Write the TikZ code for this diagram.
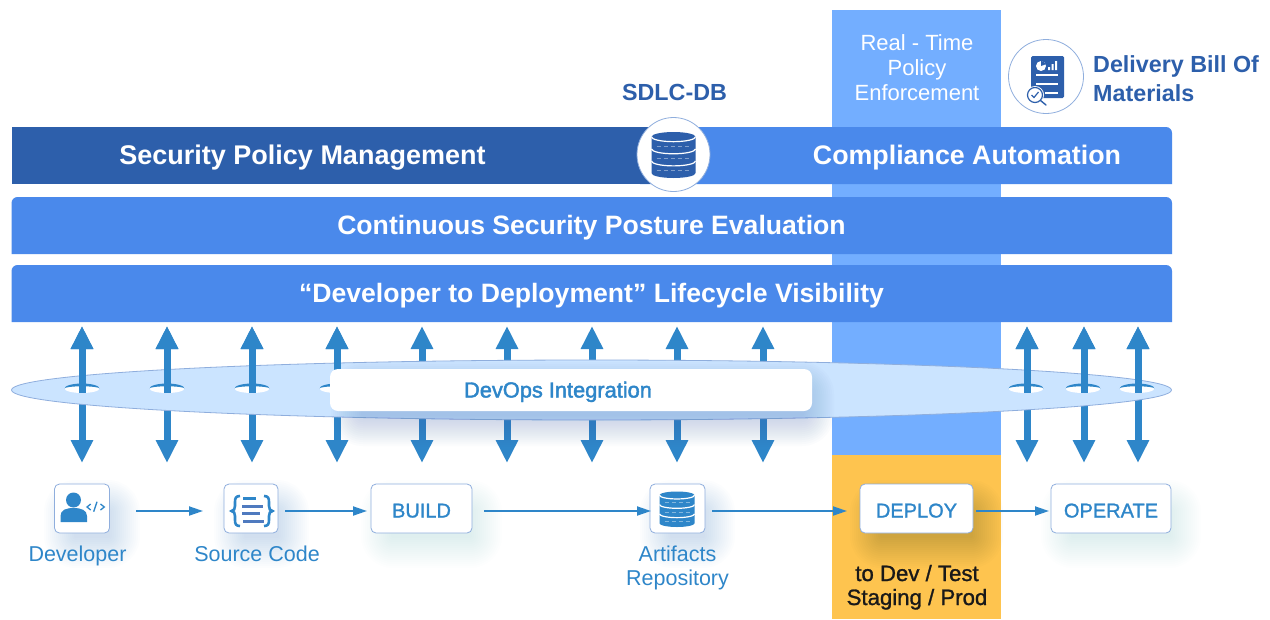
\documentclass[tikz,border=0pt]{standalone}
\usepackage{fontspec}
\setmainfont{Liberation Sans}
\newfontfamily\medf[FakeBold=1.2]{Liberation Sans}
\newfontfamily\semif[FakeBold=2]{Liberation Sans}
\usetikzlibrary{arrows.meta,shapes.geometric}
\definecolor{deepb}{HTML}{2D5FAB}
\definecolor{midb}{HTML}{4A89EB}
\definecolor{colb}{HTML}{73AEFF}
\definecolor{gold}{HTML}{FEC44F}
\definecolor{flowb}{HTML}{2E86C9}
\definecolor{edgeb}{HTML}{8FAEDD}
\definecolor{ovalb}{HTML}{CBE4FF}
\definecolor{lineb}{HTML}{4F7ABF}
\newcommand{\softshadow}[6]{% x1 y1 x2 y2 colour opacity
  \foreach \s in {24,22,...,-6}{
    \pgfmathsetmacro{\rr}{8+\s}
    \fill[#5,opacity=#6,rounded corners=\rr pt] ({#1-\s+10},{#2-\s+14}) rectangle ({#3+\s+10},{#4+\s+14});
  }}
\newcommand{\dbicon}[5]{% cx top w h colour
  \pgfmathsetmacro{\hw}{#3/2}\pgfmathsetmacro{\ry}{#4*0.105}\pgfmathsetmacro{\sec}{(#4-2*\ry)/3}
  \pgfmathsetmacro{\yA}{#2+\ry}\pgfmathsetmacro{\yB}{\yA+\sec}\pgfmathsetmacro{\yC}{\yB+\sec}\pgfmathsetmacro{\yD}{\yC+\sec}
  \fill[#5] ({#1-\hw},\yA) arc[x radius=\hw,y radius=\ry,start angle=180,end angle=360]
     -- ({#1+\hw},\yD) arc[x radius=\hw,y radius=\ry,start angle=0,end angle=180] -- cycle;
  \draw[white,line width=1.2pt] ({#1-\hw},\yA) arc[x radius=\hw,y radius=\ry,start angle=180,end angle=0];
  \draw[white,line width=1.2pt] ({#1-\hw},\yB) arc[x radius=\hw,y radius=\ry,start angle=180,end angle=0];
  \draw[white,line width=1.2pt] ({#1-\hw},\yC) arc[x radius=\hw,y radius=\ry,start angle=180,end angle=0];
  \foreach \yy in {\yA,\yB,\yC}{
    \draw[white,opacity=.4,line width=.6pt,dash pattern=on 4pt off 3pt] ({#1-\hw+5},{\yy+\ry+\sec*.4}) -- ({#1+\hw-5},{\yy+\ry+\sec*.4});
  }}
\tikzset{
  flow/.style={draw=flowb,line width=1.9pt,-{Triangle[width=9pt,length=14pt]}},
  dbl/.style={draw=flowb,line width=7pt,{Triangle[width=21pt,length=23pt]}-{Triangle[width=21pt,length=23pt]}},
  upper/.style={draw=flowb,line width=7pt,{Triangle[width=21pt,length=23pt]}-},
  stepbox/.style={draw=edgeb,line width=.8pt,fill=white,rounded corners=5pt,inner sep=0pt,outer sep=0pt,minimum height=49pt,text=flowb,text height=18pt,text depth=0pt,font=\medf\fontsize{20}{24}\selectfont},
  bartext/.style={text=white,anchor=base,inner sep=0pt},
  caption/.style={text=flowb,anchor=base,font=\fontsize{21.5}{24}\selectfont,inner sep=0pt},
  whitecap/.style={text=white,anchor=base,font=\fontsize{22}{25}\selectfont,inner sep=0pt},
  blackcap/.style={text=black!90,anchor=base,font=\medf\fontsize{22.2}{24}\selectfont,inner sep=0pt},
  deepcap/.style={text=deepb,anchor=base,font=\fontsize{23.3}{26}\selectfont\bfseries,inner sep=0pt},
  round/.style={draw=edgeb,line width=.8pt,fill=white,ellipse,inner sep=0pt,outer sep=0pt}
}
\begin{document}
\begin{tikzpicture}[x=1pt,y=-1pt]
\useasboundingbox (0,0) rectangle (1270,619);
\fill[white] (0,0) rectangle (1270,619);
% columns
\fill[colb] (832,10) rectangle (1001,455);
\fill[gold] (832,455) rectangle (1001,619);
% bars
\fill[midb] (640,184) [rounded corners=6pt] -- (640,127) -- (1172,127) [sharp corners] -- (1172,184) -- cycle;
\fill[deepb] (11.5,127) rectangle (650,184);
\fill[midb] (11.5,254) [rounded corners=6pt] -- (11.5,197) -- (1172,197) [sharp corners] -- (1172,254) -- cycle;
\fill[midb] (11.5,322) [rounded corners=6pt] -- (11.5,265) -- (1172,265) [sharp corners] -- (1172,322) -- cycle;
\node[bartext,font=\fontsize{27}{30}\selectfont\bfseries] (secpol) at (302.5,164.5) {Security Policy Management};
\node[bartext,font=\fontsize{26.8}{30}\selectfont\bfseries] (compl) at (967,164.5) {Compliance Automation};
\node[bartext,font=\fontsize{26.6}{30}\selectfont\bfseries] (evalbar) at (591.5,234.5) {Continuous Security Posture Evaluation};
\node[bartext,font=\fontsize{26.6}{30}\selectfont\bfseries] (visbar) at (591.5,302.5) {“Developer to Deployment” Lifecycle Visibility};
% top labels
\node[whitecap] (rt1) at (917,50) {Real - Time};
\node[whitecap] (rt2) at (917,75) {Policy};
\node[whitecap] (rt3) at (917,100) {Enforcement};
\node[deepcap] (sdlc) at (674.5,100) {SDLC-DB};
\node[deepcap,anchor=base west] (dbom1) at (1093,72) {Delivery Bill Of};
\node[deepcap,anchor=base west] (dbom2) at (1093,101) {Materials};
% SDLC circle
\node[round,minimum width=73pt,minimum height=74pt] (dbcircle) at (673.5,154.5) {};
\dbicon{673.5}{132}{44}{46}{deepb}
% BOM circle
\node[round,minimum width=75pt,minimum height=74pt] (bomcircle) at (1046,76.5) {};
\fill[deepb,rounded corners=1.5pt] (1031,56) rectangle (1064,98);
\fill[white] (1041,66) circle (5pt);
\fill[deepb] (1041,66) -- (1041,61) arc[radius=5,start angle=-90,end angle=-20] -- cycle;
\fill[white] (1048,67) rectangle (1050,70) (1051.5,64) rectangle (1053.5,70) (1055,61) rectangle (1057,70);
\draw[white,line width=1.2pt] (1036,75) -- (1058,75) (1036,84) -- (1058,84) (1045,93) -- (1058,93);
\fill[white] (1035,95) circle (9pt);
\draw[deepb,line width=1.2pt] (1035,95) circle (7.5pt);
\draw[deepb,line width=1.4pt,line cap=round] (1040.5,100.5) -- (1046,105);
\draw[deepb,line width=1.2pt] (1031.5,95) -- (1034,97.5) -- (1038.5,92);
% arrows and oval
\foreach \n/\x in {a/82,b/167,c/252,d/337,e/422,f/507,g/592,h/677,i/763,j/1027,k/1084,l/1138}{
  \coordinate (top\n) at (\x,326);
  \coordinate (bot\n) at (\x,463);
  \coordinate (hole\n) at (\x,393);
  \draw[dbl] (top\n) -- (bot\n);
}
\node[draw=edgeb,line width=.8pt,fill=ovalb,ellipse,minimum width=1160pt,minimum height=60pt,inner sep=0pt] (oval) at (591.5,390) {};
\foreach \x in {82,167,252,337,1026,1083,1137}{
  \fill[white] ({\x-17.5},388.5) arc[x radius=17.5,y radius=4.5,start angle=180,end angle=-180];
  \fill[flowb] ({\x-17.5},388.5) arc[x radius=17.5,y radius=5,start angle=180,end angle=360] arc[x radius=17.5,y radius=2.2,start angle=360,end angle=180] -- cycle;
}
\foreach \n in {a,b,c,d,j,k,l}{
  \draw[upper] (top\n) -- (hole\n);
}
% DevOps box
\softshadow{345}{372}{800}{408}{lineb}{.02}
\node[fill=white,rounded corners=8pt,minimum width=482pt,minimum height=42pt,inner sep=0pt] (devops) at (571,390) {};
\node[text=flowb,anchor=base,font=\semif\fontsize{21.8}{24}\selectfont,inner sep=0pt] (devopstxt) at (558,397.5) {DevOps Integration};
% step shadows
\softshadow{58}{490}{106}{530}{flowb}{.01}
\softshadow{228}{490}{275}{530}{flowb}{.01}
\softshadow{375}{490}{468}{530}{flowb}{.008}
\softshadow{654}{490}{701}{530}{flowb}{.01}
\softshadow{864}{490}{969}{530}{black!70!flowb}{.012}
\softshadow{1055}{490}{1167}{530}{flowb}{.008}
% steps
\node[stepbox,minimum width=55pt] (dev) at (82,508.5) {};
\node[stepbox,minimum width=54pt] (src) at (251,508.5) {};
\node[stepbox,minimum width=101pt] (build) at (421.5,508.5) {BUILD};
\node[stepbox,minimum width=55pt] (art) at (677.5,508.5) {};
\node[stepbox,minimum width=113pt] (deploy) at (916.5,508.5) {DEPLOY};
\node[stepbox,minimum width=120pt] (operate) at (1111,508.5) {OPERATE};
% person icon
\fill[flowb] (73.5,500) circle (7.5pt);
\fill[flowb] (60.5,522) -- (60.5,516) .. controls (60.5,510) and (66,508) .. (73.5,508) .. controls (81,508) and (87,510) .. (87,516) -- (87,522) -- cycle;
\draw[flowb,line width=1.3pt] (90.7,504) -- (87,507) -- (90.7,510) (100.5,504) -- (104.3,507) -- (100.5,510) (93.7,511.7) -- (97,501.7);
% source icon
\draw[flowb,line width=2.6pt] (240,496) .. controls (236,496) and (235,498) .. (235,502) -- (235,506) .. controls (235,509) and (234,510.5) .. (231.5,511) .. controls (234,511.5) and (235,513) .. (235,516) -- (235,520) .. controls (235,524) and (236,526) .. (240,526);
\draw[flowb,line width=2.6pt] (264,496) .. controls (268,496) and (269,498) .. (269,502) -- (269,506) .. controls (269,509) and (270,510.5) .. (272.5,511) .. controls (270,511.5) and (269,513) .. (269,516) -- (269,520) .. controls (269,524) and (268,526) .. (264,526);
\draw[flowb,line width=3pt] (243,498.5) -- (256,498.5);
\draw[lineb,line width=3pt] (242,506.5) -- (263,506.5) (242,513.5) -- (260,513.5) (243,521.5) -- (264,521.5);
% artifacts icon
\dbicon{677}{491.5}{35}{35.5}{flowb}
% connectors
\draw[flow,shorten <=26.5pt,shorten >=21pt] ([yshift=-2.5pt]dev.east) -- ([yshift=-2.5pt]src.west);
\draw[flow,shorten <=7pt,shorten >=4pt] ([yshift=-2.5pt]src.east) -- ([yshift=-2.5pt]build.west);
\draw[flow,shorten <=12pt,shorten >=-1pt] ([yshift=-2.5pt]build.east) -- ([yshift=-2.5pt]art.west);
\draw[flow,shorten <=7pt,shorten >=13pt] ([yshift=-2.5pt]art.east) -- ([yshift=-2.5pt]deploy.west);
\draw[flow,shorten <=3pt,shorten >=2pt] ([yshift=-2.5pt]deploy.east) -- ([yshift=-2.5pt]operate.west);
% captions
\node[caption] (devcap) at (77.5,561) {Developer};
\node[caption] (srccap) at (257,561) {Source Code};
\node[caption] (artcap1) at (677.5,561) {Artifacts};
\node[caption] (artcap2) at (677.5,585) {Repository};
\node[blackcap] (to1) at (917,581) {to Dev / Test};
\node[blackcap] (to2) at (917,605) {Staging / Prod};
\end{tikzpicture}
\end{document}
